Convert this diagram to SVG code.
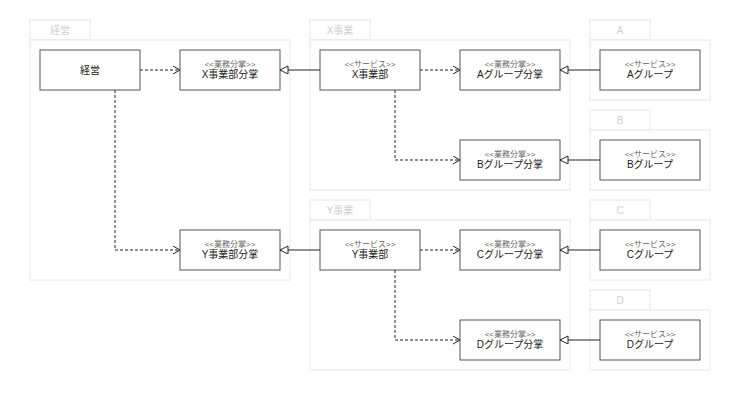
<svg xmlns="http://www.w3.org/2000/svg" width="740" height="400" viewBox="0 0 740 400">
<style>
text{font-family:"Liberation Sans","Noto Sans CJK JP",sans-serif;text-anchor:middle}
.pk{fill:#fff;stroke:#e6e6e6;stroke-width:1}
.pt{font-size:10px;fill:#cfcfcf}
.n{fill:#fff;stroke:#555;stroke-width:1}
.st{font-size:8px;fill:#666}
.nm{font-size:10px;fill:#222}
.d{fill:none;stroke:#222;stroke-dasharray:3,2}
.s{fill:none;stroke:#222}
</style>
<defs>
<marker id="open" markerWidth="10" markerHeight="10" refX="8" refY="4" orient="auto" markerUnits="userSpaceOnUse"><path d="M1,0 L8,4 L1,8" fill="none" stroke="#222"/></marker>
<marker id="tri" markerWidth="10" markerHeight="10" refX="9" refY="4" orient="auto" markerUnits="userSpaceOnUse"><path d="M1,0 L9,4 L1,8 Z" fill="#fff" stroke="#222"/></marker>
</defs>
<rect width="740" height="400" fill="#fff"/>
<g id="pkg-keiei"><rect class="pk" x="30" y="20" width="60" height="20"/><rect class="pk" x="30" y="40" width="260" height="240"/><text class="pt" x="60" y="34">経営</text></g>
<g id="pkg-x"><rect class="pk" x="310" y="20" width="60" height="20"/><rect class="pk" x="310" y="40" width="260" height="150"/><text class="pt" x="340" y="34">X事業</text></g>
<g id="pkg-y"><rect class="pk" x="310" y="200" width="60" height="20"/><rect class="pk" x="310" y="220" width="260" height="150"/><text class="pt" x="340" y="214">Y事業</text></g>
<g id="pkg-a"><rect class="pk" x="590" y="20" width="60" height="20"/><rect class="pk" x="590" y="40" width="120" height="60"/><text class="pt" x="620" y="34">A</text></g>
<g id="pkg-b"><rect class="pk" x="590" y="110" width="60" height="20"/><rect class="pk" x="590" y="130" width="120" height="60"/><text class="pt" x="620" y="124">B</text></g>
<g id="pkg-c"><rect class="pk" x="590" y="200" width="60" height="20"/><rect class="pk" x="590" y="220" width="120" height="60"/><text class="pt" x="620" y="214">C</text></g>
<g id="pkg-d"><rect class="pk" x="590" y="290" width="60" height="20"/><rect class="pk" x="590" y="310" width="120" height="60"/><text class="pt" x="620" y="304">D</text></g>

<g id="keiei"><rect class="n" x="40" y="50" width="100" height="40"/><text class="nm" x="90" y="74">経営</text></g>
<g id="xbun"><rect class="n" x="180" y="50" width="100" height="40"/><text class="st" x="230" y="67">&lt;&lt;業務分掌&gt;&gt;</text><text class="nm" x="230" y="78">X事業部分掌</text></g>
<g id="ybun"><rect class="n" x="180" y="230" width="100" height="40"/><text class="st" x="230" y="247">&lt;&lt;業務分掌&gt;&gt;</text><text class="nm" x="230" y="258">Y事業部分掌</text></g>
<g id="xjig"><rect class="n" x="320" y="50" width="100" height="40"/><text class="st" x="370" y="67">&lt;&lt;サービス&gt;&gt;</text><text class="nm" x="370" y="78">X事業部</text></g>
<g id="yjig"><rect class="n" x="320" y="230" width="100" height="40"/><text class="st" x="370" y="247">&lt;&lt;サービス&gt;&gt;</text><text class="nm" x="370" y="258">Y事業部</text></g>
<g id="abun"><rect class="n" x="460" y="50" width="100" height="40"/><text class="st" x="510" y="67">&lt;&lt;業務分掌&gt;&gt;</text><text class="nm" x="510" y="78">Aグループ分掌</text></g>
<g id="bbun"><rect class="n" x="460" y="140" width="100" height="40"/><text class="st" x="510" y="157">&lt;&lt;業務分掌&gt;&gt;</text><text class="nm" x="510" y="168">Bグループ分掌</text></g>
<g id="cbun"><rect class="n" x="460" y="230" width="100" height="40"/><text class="st" x="510" y="247">&lt;&lt;業務分掌&gt;&gt;</text><text class="nm" x="510" y="258">Cグループ分掌</text></g>
<g id="dbun"><rect class="n" x="460" y="320" width="100" height="40"/><text class="st" x="510" y="337">&lt;&lt;業務分掌&gt;&gt;</text><text class="nm" x="510" y="348">Dグループ分掌</text></g>
<g id="ag"><rect class="n" x="600" y="50" width="100" height="40"/><text class="st" x="650" y="67">&lt;&lt;サービス&gt;&gt;</text><text class="nm" x="650" y="78">Aグループ</text></g>
<g id="bg"><rect class="n" x="600" y="140" width="100" height="40"/><text class="st" x="650" y="157">&lt;&lt;サービス&gt;&gt;</text><text class="nm" x="650" y="168">Bグループ</text></g>
<g id="cg"><rect class="n" x="600" y="230" width="100" height="40"/><text class="st" x="650" y="247">&lt;&lt;サービス&gt;&gt;</text><text class="nm" x="650" y="258">Cグループ</text></g>
<g id="dg"><rect class="n" x="600" y="320" width="100" height="40"/><text class="st" x="650" y="337">&lt;&lt;サービス&gt;&gt;</text><text class="nm" x="650" y="348">Dグループ</text></g>

<g id="connectors">
<path class="d" d="M140,70 H180" marker-end="url(#open)"/>
<path class="d" d="M115,90 V250 H180" marker-end="url(#open)"/>
<path class="s" d="M320,70 H280" marker-end="url(#tri)"/>
<path class="s" d="M320,250 H280" marker-end="url(#tri)"/>
<path class="d" d="M420,70 H460" marker-end="url(#open)"/>
<path class="d" d="M395,90 V160 H460" marker-end="url(#open)"/>
<path class="d" d="M420,250 H460" marker-end="url(#open)"/>
<path class="d" d="M395,270 V340 H460" marker-end="url(#open)"/>
<path class="s" d="M600,70 H560" marker-end="url(#tri)"/>
<path class="s" d="M600,160 H560" marker-end="url(#tri)"/>
<path class="s" d="M600,250 H560" marker-end="url(#tri)"/>
<path class="s" d="M600,340 H560" marker-end="url(#tri)"/>
</g>
</svg>
